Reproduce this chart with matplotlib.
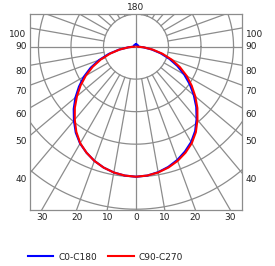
import numpy as np
import matplotlib.pyplot as plt

# gamma angles (0 = straight down), 5 degree steps
angles = np.arange(0, 181, 5)

# relative intensity, 1 unit = one grid ring
c0 = [4.00, 3.98, 3.92, 3.83, 3.71, 3.56, 3.39, 3.17, 2.90, 2.62, 2.32, 2.02, 1.71, 1.40, 1.09, 0.78, 0.48, 0.22, 0.08,
      0.07, 0.07, 0.07, 0.07, 0.07, 0.07, 0.07, 0.07, 0.07, 0.07, 0.07, 0.07, 0.07, 0.07, 0.07, 0.07, 0.07, 0.07]
c180 = [4.00, 3.98, 3.93, 3.85, 3.74, 3.60, 3.44, 3.23, 2.97, 2.71, 2.43, 2.14, 1.85, 1.54, 1.21, 0.87, 0.53, 0.24, 0.08,
        0.07, 0.07, 0.07, 0.07, 0.07, 0.07, 0.07, 0.07, 0.07, 0.07, 0.07, 0.07, 0.07, 0.07, 0.07, 0.07, 0.07, 0.07]
c90 = [4.00, 3.98, 3.93, 3.85, 3.74, 3.60, 3.43, 3.21, 2.94, 2.67, 2.38, 2.09, 1.80, 1.49, 1.17, 0.84, 0.52, 0.24, 0.04,
       0, 0, 0, 0, 0, 0, 0, 0, 0, 0, 0, 0, 0, 0, 0, 0, 0, 0]
c270 = [4.00, 3.98, 3.93, 3.85, 3.74, 3.60, 3.43, 3.20, 2.93, 2.66, 2.37, 2.08, 1.78, 1.47, 1.15, 0.82, 0.51, 0.23, 0.04,
        0, 0, 0, 0, 0, 0, 0, 0, 0, 0, 0, 0, 0, 0, 0, 0, 0, 0]

side_labels = [100, 90, 80, 70, 60, 50, 40]
bottom_labels = [30, 20, 10, 0, 10, 20, 30]
rings = [1, 2, 3, 4, 5]

grid_col = '#8c8c8c'
txt_col = '#222222'
fs = 6.5

X = 3.26    # half width of the box
Ytop = 1.0
Ybot = -5.02


def half(vals, sign):
    g = np.radians(angles)
    r = np.array(vals)
    keep = r > 0
    return sign * r[keep] * np.sin(g[keep]), -r[keep] * np.cos(g[keep])


fig = plt.figure(figsize=(2.75, 2.66), dpi=100)
ax = fig.add_axes([30 / 275, 1 - 210 / 266, 212 / 275, 196 / 266])
ax.set_xlim(-X, X)
ax.set_ylim(Ybot, Ytop)
ax.set_aspect('equal', adjustable='box')
ax.set_xticks([])
ax.set_yticks([])
for s in ax.spines.values():
    s.set_color(grid_col)
    s.set_linewidth(0.9)

# grid: rings and radial lines
t = np.linspace(0, 2 * np.pi, 400)
for r in rings:
    ax.plot(r * np.cos(t), r * np.sin(t), color=grid_col, lw=0.9, zorder=1)
for a in range(10, 180, 10):
    if a == 90:
        continue
    g = np.radians(a)
    for sgn in (-1, 1):
        ax.plot([sgn * np.sin(g), sgn * 9 * np.sin(g)], [-np.cos(g), -9 * np.cos(g)],
                color=grid_col, lw=0.9, zorder=1)
ax.axhline(0, color=grid_col, lw=0.9, zorder=1)
ax.axvline(0, color=grid_col, lw=0.9, zorder=1)

# curves
xb, yb = half(c0, 1)
xb2, yb2 = half(c180, -1)
ax.plot(np.concatenate([xb2[::-1], xb]), np.concatenate([yb2[::-1], yb]),
        color='#0000ff', lw=1.5, zorder=3, label='C0-C180')
xr, yr = half(c90, 1)
xr2, yr2 = half(c270, -1)
ax.plot(np.concatenate([xr2[::-1], xr]), np.concatenate([yr2[::-1], yr]),
        color='#ff0000', lw=1.5, zorder=4, label='C90-C270')

# angle labels
for a in side_labels:
    y = -X / np.tan(np.radians(a))
    dy = 0 if a == 90 else -4.5
    ax.annotate(str(a), (-X, y), xytext=(-2.5, dy), textcoords='offset points',
                ha='right', va='center', fontsize=fs, color=txt_col, annotation_clip=False)
    ax.annotate(str(a), (X, y), xytext=(2.5, dy), textcoords='offset points',
                ha='left', va='center', fontsize=fs, color=txt_col, annotation_clip=False)
for i, a in enumerate(bottom_labels):
    sgn = -1 if i < 3 else 1
    x = sgn * abs(Ybot) * np.tan(np.radians(a))
    ax.annotate(str(a), (x, Ybot), xytext=(0, -2.5), textcoords='offset points',
                ha='center', va='top', fontsize=fs, color=txt_col, annotation_clip=False)
ax.annotate('180', (0, Ytop), xytext=(0, 1.5), textcoords='offset points',
            ha='center', va='bottom', fontsize=fs, color=txt_col, annotation_clip=False)

fig.legend(loc='center left', bbox_to_anchor=(28 / 275, 9 / 266), ncol=2, frameon=False,
           fontsize=fs, handlelength=2.8, handletextpad=0.55, columnspacing=1.25,
           borderpad=0, borderaxespad=0, labelcolor=txt_col)

fig.savefig('out.png', dpi=100)
